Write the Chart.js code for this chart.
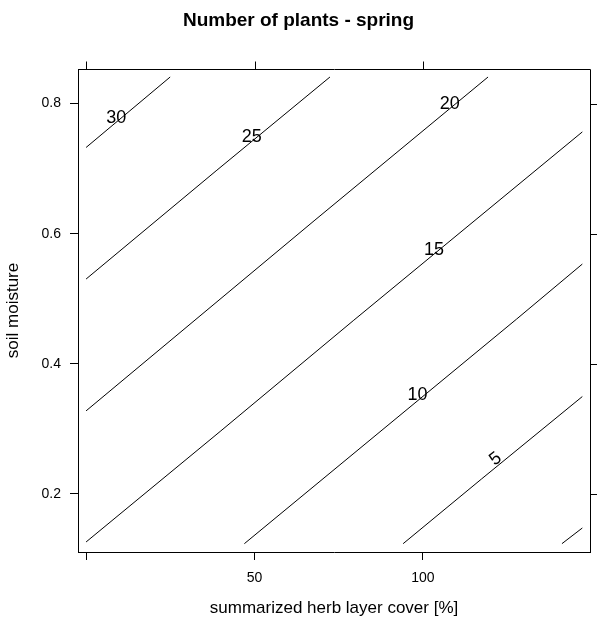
<!DOCTYPE html>
<html>
<head>
<meta charset="utf-8">
<script src="https://cdn.jsdelivr.net/npm/chart.js@4"></script>
<style>
  html, body { margin: 0; padding: 0; background: #fff; }
  #wrap { width: 597px; height: 630px; }
</style>
</head>
<body>
<div id="wrap"><canvas id="chart-1" width="597" height="630"></canvas></div>
<script>
// contour lines: herb cover (x) vs soil moisture (y)
const levels = [30, 25, 20, 15, 10, 5, 0];
const line30x = [0, 24.96];
const line30y = [0.7325, 0.8408];
const line25x = [0, 38.6, 72.4];
const line25y = [0.5303, 0.6966, 0.8408];
const line20x = [0, 67.95, 119.33];
const line20y = [0.3277, 0.6209, 0.8408];
const line15x = [0, 39.79, 79.31, 147.32];
const line15y = [0.1262, 0.2960, 0.4663, 0.7564];
const line10x = [46.99, 127.75, 147.32];
const line10y = [0.1236, 0.4685, 0.5533];
const line5x = [94.13, 117.37, 147.32];
const line5y = [0.1236, 0.2229, 0.3497];
const line0x = [141.27, 147.32];
const line0y = [0.1236, 0.1477];

// contour labels
const labelText = ["30", "25", "20", "15", "10", "5"];
const labelX = [8.95, 49.19, 107.97, 103.32, 98.4, 121.61];
const labelY = [0.777, 0.7487, 0.799, 0.5748, 0.3523, 0.2536];
const labelAngle = [0, 0, 0, 0, 0, -38];

const xTicks = [0, 50, 100];
const yTicks = [0.2, 0.4, 0.6, 0.8];

const FONT = "'Liberation Sans', Arial, Helvetica, sans-serif";

function pts(xs, ys) {
  return xs.map((x, i) => ({ x: x, y: ys[i] }));
}

const lines = [
  pts(line30x, line30y), pts(line25x, line25y), pts(line20x, line20y),
  pts(line15x, line15y), pts(line10x, line10y), pts(line5x, line5y),
  pts(line0x, line0y)
];

// box, top/right ticks, title and contour labels
const extras = {
  id: "extras",
  afterDraw(chart) {
    const ctx = chart.ctx;
    const a = chart.chartArea;
    const xs = chart.scales.x, ys = chart.scales.y;
    ctx.save();
    ctx.strokeStyle = "#000";
    ctx.lineWidth = 1;
    ctx.beginPath();
    const t = Math.round(a.top) + 0.5, r = Math.round(a.right) + 0.5;
    ctx.moveTo(Math.round(a.left) + 0.5, t);
    ctx.lineTo(r, t);
    ctx.lineTo(r, Math.round(a.bottom) + 0.5);
    xTicks.forEach((v) => {
      const px = Math.round(xs.getPixelForValue(v)) + 0.5;
      ctx.moveTo(px, t);
      ctx.lineTo(px, t - 8);
    });
    yTicks.forEach((v) => {
      const py = Math.round(ys.getPixelForValue(v)) + 0.5;
      ctx.moveTo(r, py);
      ctx.lineTo(r + 8, py);
    });
    ctx.stroke();

    ctx.fillStyle = "#000";
    ctx.textAlign = "center";
    ctx.textBaseline = "middle";
    ctx.font = "bold 19px " + FONT;
    ctx.fillText("Number of plants - spring", chart.width / 2, 21);

    ctx.font = "18px " + FONT;
    labelText.forEach((s, i) => {
      ctx.save();
      ctx.translate(xs.getPixelForValue(labelX[i]), ys.getPixelForValue(labelY[i]));
      ctx.rotate(labelAngle[i] * Math.PI / 180);
      ctx.fillText(s, 0, 0);
      ctx.restore();
    });
    ctx.restore();
  }
};

const ctx = document.getElementById("chart-1").getContext("2d");
const myChart = new Chart(ctx, {
  type: "scatter",
  data: {
    datasets: lines.map((d, i) => ({
      label: String(levels[i]),
      data: d,
      showLine: true,
      borderColor: "#000",
      borderWidth: 1,
      pointRadius: 0,
      tension: 0,
      fill: false
    }))
  },
  options: {
    responsive: false,
    animation: false,
    layout: { padding: { top: 69, right: 7, left: 0, bottom: 0 } },
    plugins: {
      legend: { display: false },
      tooltip: { enabled: false },
      title: { display: false }
    },
    scales: {
      x: {
        type: "linear",
        min: -2.4,
        max: 149.6,
        afterBuildTicks: (s) => { s.ticks = xTicks.map((v) => ({ value: v })); },
        afterFit: (s) => { s.height = 78; },
        ticks: {
          color: "#000",
          font: { size: 14, family: FONT },
          padding: 10,
          maxRotation: 0,
          callback: (v) => (v === 0 ? "" : v)
        },
        grid: { drawOnChartArea: false, drawTicks: true, tickLength: 8, color: "#000" },
        border: { display: true, color: "#000" },
        title: {
          display: true,
          text: "summarized herb layer cover [%]",
          color: "#000",
          font: { size: 17, family: FONT },
          padding: { top: 0, bottom: 11 }
        }
      },
      y: {
        type: "linear",
        min: 0.1108,
        max: 0.8531,
        afterBuildTicks: (s) => { s.ticks = yTicks.map((v) => ({ value: v })); },
        afterFit: (s) => { s.width = 78; },
        ticks: {
          color: "#000",
          font: { size: 14, family: FONT },
          padding: 9,
          callback: (v) => v.toFixed(1)
        },
        grid: { drawOnChartArea: false, drawTicks: true, tickLength: 8, color: "#000" },
        border: { display: true, color: "#000" },
        title: {
          display: true,
          text: "soil moisture",
          color: "#000",
          font: { size: 17, family: FONT },
          padding: { top: 3, bottom: 0 }
        }
      }
    }
  },
  plugins: [extras]
});
</script>
</body>
</html>
